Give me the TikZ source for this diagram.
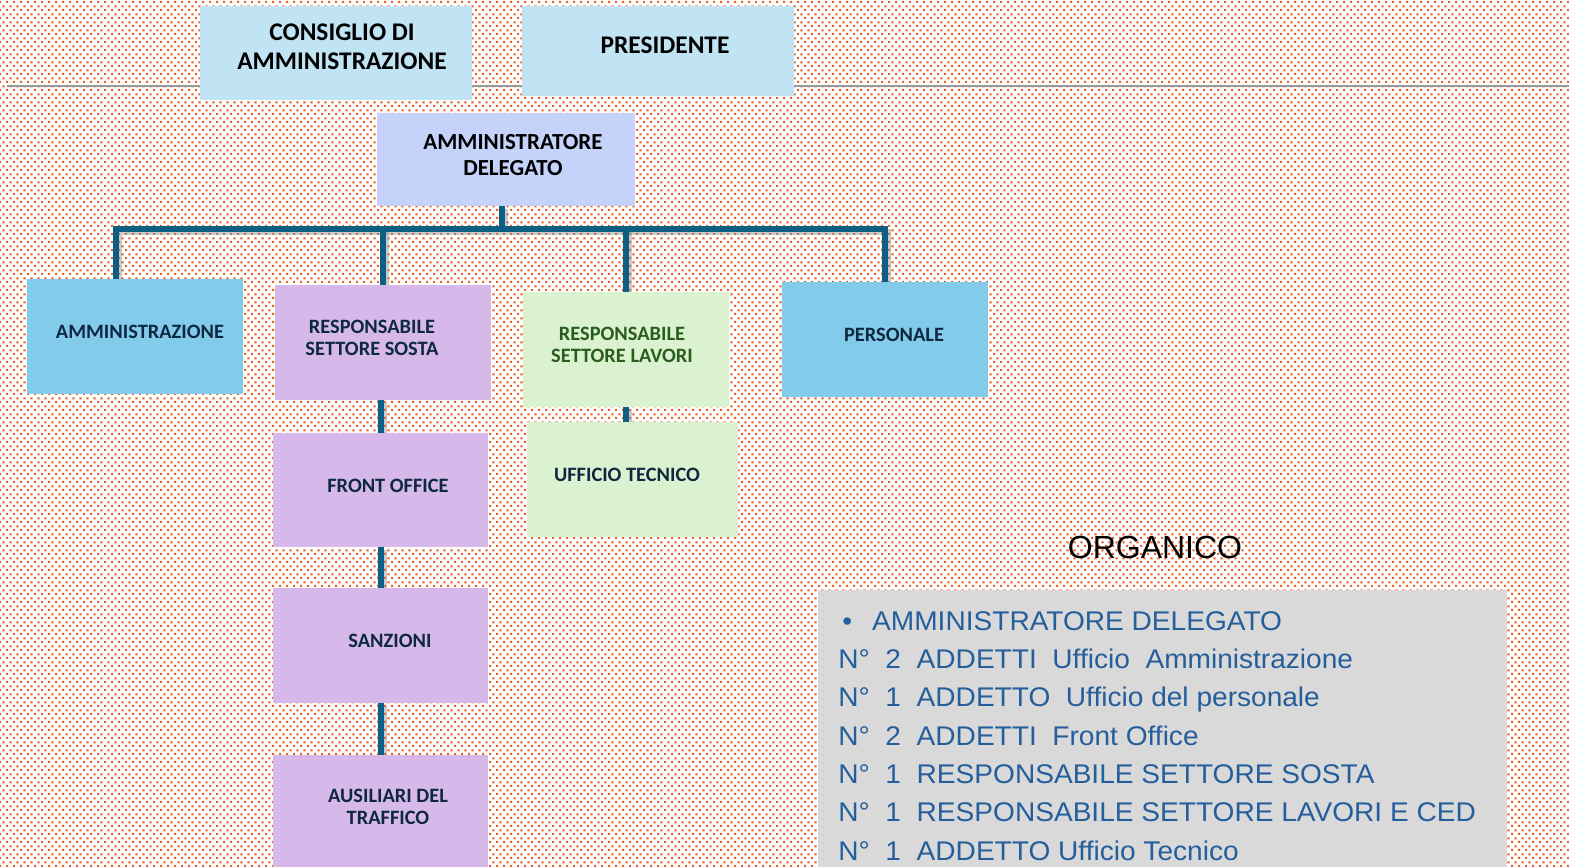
\documentclass[tikz,border=0pt]{standalone}
\usepackage{fontspec}
\setmainfont{Carlito}
\newfontfamily\listfont[FakeStretch=1.04]{Liberation Sans}
\newfontfamily\titlefont{Liberation Sans}
\usetikzlibrary{patterns,backgrounds}

\definecolor{dotorange}{RGB}{232,98,38}
\definecolor{linkblue}{RGB}{12,94,130}
\definecolor{paleblue}{RGB}{192,228,243}
\definecolor{adblue}{RGB}{197,211,250}
\definecolor{skyblue}{RGB}{131,203,235}
\definecolor{lilac}{RGB}{214,185,234}
\definecolor{mint}{RGB}{218,242,208}
\definecolor{orggray}{RGB}{217,217,217}
\definecolor{navytext}{RGB}{14,40,65}
\definecolor{greentext}{RGB}{42,92,30}
\definecolor{listblue}{RGB}{36,94,155}

\pgfdeclarepatternformonly{orgdots}{\pgfpoint{0pt}{0pt}}{\pgfpoint{3.65pt}{4pt}}{\pgfpoint{3.65pt}{4pt}}{
  \pgfpathrectangle{\pgfpoint{0pt}{0pt}}{\pgfpoint{1.2pt}{1.2pt}}
  \pgfpathrectangle{\pgfpoint{1.825pt}{2pt}}{\pgfpoint{1.2pt}{1.2pt}}
  \pgfusepath{fill}
}

\tikzset{every node/.style={shape=rectangle, inner sep=0pt, align=center}}
\tikzset{topbox/.style={fill=paleblue, minimum width=136pt, text depth=6pt, font=\bfseries\fontsize{12.7}{14.5}\selectfont, text=black}}
\tikzset{unitbox/.style={minimum height=57.5pt, text depth=4.5pt, font=\bfseries\fontsize{10.2}{11}\selectfont, text=navytext}}
\tikzset{link/.style={draw=linkblue, line width=3pt,
  preaction={draw=black!45, opacity=.45, line width=3pt, transform canvas={shift={(1.5pt,-1.5pt)}}}}}

\begin{document}
\begin{tikzpicture}[x=0.5pt, y=-0.5pt]
  \useasboundingbox (0,0) rectangle (1569,867);

  \node (cda) [topbox, minimum height=47pt] at (336,53) {\hspace*{6pt}CONSIGLIO DI\\\hspace*{6pt}AMMINISTRAZIONE};
  \node (pres) [topbox, minimum height=45pt] at (658,51) {\hspace*{7pt}PRESIDENTE};
  \node (ad) [fill=adblue, minimum width=129pt, minimum height=46.5pt, text depth=5pt,
    font=\bfseries\fontsize{11.5}{13}\selectfont] at (506,159.5) {\hspace*{7pt}AMMINISTRATORE\\\hspace*{7pt}DELEGATO};

  \coordinate (bar) at (502,229);

  \node (amm) [unitbox, fill=skyblue, minimum width=108pt] at (135,336.5) {\hspace*{5pt}AMMINISTRAZIONE};
  \node (rss) [unitbox, fill=lilac, minimum width=108pt] at (383,342.5) {RESPONSABILE\hspace*{11pt}\\SETTORE SOSTA\hspace*{11pt}};
  \node (rsl) [unitbox, fill=mint, minimum width=103pt, text=greentext] at (626,349.5) {RESPONSABILE\hspace*{4pt}\\SETTORE LAVORI\hspace*{4pt}};
  \node (pers) [unitbox, fill=skyblue, minimum width=103pt] at (885,339.5) {\hspace*{9pt}PERSONALE};
  \node (ut) [unitbox, fill=mint, minimum width=105.5pt] at (632.5,479.5) {UFFICIO TECNICO\hspace*{5.5pt}};
  \node (fo) [unitbox, fill=lilac, minimum width=107.5pt, minimum height=57pt] at (380.5,490) {\hspace*{7.5pt}FRONT OFFICE};
  \node (san) [unitbox, fill=lilac, minimum width=107.5pt] at (380.5,645.5) {\hspace*{9.5pt}SANZIONI};
  \node (aus) [unitbox, fill=lilac, minimum width=107.5pt, minimum height=56pt] at (380.5,811) {\hspace*{7.5pt}AUSILIARI DEL\\\hspace*{7.5pt}TRAFFICO};

  \node (organico) [font=\titlefont\fontsize{16}{19}\selectfont] at (1155,547) {ORGANICO};
  \node (orgbox) [fill=orggray, anchor=north west, minimum width=344.5pt, minimum height=145pt] at (818,590) {};
  \node (orglist) [anchor=north west, align=left, text=listblue,
    font=\listfont\fontsize{13.5}{19.15}\selectfont] at (838,611)
    {\hspace*{2pt}\textbullet\hspace*{10pt}AMMINISTRATORE DELEGATO\\
     N°~~2~~ADDETTI~~Ufficio~~Amministrazione\\
     N°~~1~~ADDETTO~~Ufficio del personale\\
     N°~~2~~ADDETTI~~Front Office\\
     N°~~1~~RESPONSABILE SETTORE SOSTA\\
     N°~~1~~RESPONSABILE SETTORE LAVORI E CED\\
     N°~~1~~ADDETTO Ufficio Tecnico};

  \begin{scope}[on background layer]
    \fill[white] (0,0) rectangle (1569,867);
    \fill[pattern=orgdots, pattern color=dotorange] (0,0) rectangle (1569,867);
    \draw[black!40, line width=1pt] (7,86) -- (1569,86);

    \draw[link] (bar |- ad.south) -- (bar);
    \draw[link] ([xshift=-9.5pt]amm.north) |- (pers.north |- bar) -- (pers.north);
    \draw[link] (rss.north) -- (rss.north |- bar);
    \draw[link] (rsl.north) -- (rsl.north |- bar);
    \draw[link] (fo.north |- rss.south) -- (fo.north);
    \draw[link] (fo.south) -- (san.north);
    \draw[link] (san.south) -- (aus.north);
    \draw[link] (rsl.south) -- (rsl.south |- ut.north);
  \end{scope}
\end{tikzpicture}
\end{document}
